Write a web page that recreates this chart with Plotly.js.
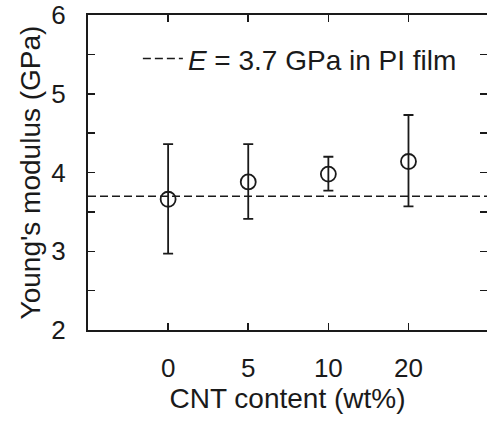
<!DOCTYPE html>
<html><head><meta charset="utf-8">
<script src="https://cdn.plot.ly/plotly-3.0.1.min.js"></script>
<style>html,body{margin:0;padding:0;background:#fff;}</style>
</head><body>
<div id="chart" style="width:487px;height:421px;"></div>
<script>
const categories = ["0", "5", "10", "20"];
const modulus = [3.66, 3.88, 3.98, 4.14];
const errPlus = [0.70, 0.48, 0.22, 0.59];
const errMinus = [0.69, 0.47, 0.21, 0.57];
const filmModulus = 3.7;
const filmLabel = "<i>E</i> = 3.7 GPa in PI film";
const yTicks = [2, 3, 4, 5, 6];

const ink = "#1a1a1a";
const xIdx = categories.map((c, i) => i);

const data = [{
  type: "scatter", mode: "markers",
  x: xIdx, y: modulus,
  error_y: {type: "data", symmetric: false, array: errPlus, arrayminus: errMinus,
            color: ink, thickness: 1.8, width: 5},
  marker: {symbol: "circle-open", size: 15, color: ink, line: {width: 1.8, color: ink}},
  showlegend: false, hoverinfo: "skip"
}];

const layout = {
  width: 487, height: 421,
  margin: {l: 88, r: 0, t: 15, b: 91},
  paper_bgcolor: "#fff", plot_bgcolor: "#fff",
  font: {family: "Liberation Sans, Arial, sans-serif", size: 28, color: ink},
  showlegend: true,
  legend: {x: 0.125, y: 0.94, xanchor: "left", yanchor: "top", bgcolor: "rgba(0,0,0,0)",
           font: {size: 28, color: ink}, itemwidth: 40},
  xaxis: {
    range: [-1, 3.98], tickvals: xIdx, ticktext: categories,
    showline: true, linecolor: ink, linewidth: 2, mirror: "ticks",
    ticks: "inside", ticklen: 7, tickwidth: 1.5, tickcolor: ink,
    tickfont: {size: 26},
    ticklabelstandoff: 14, showgrid: false, zeroline: false,
    title: {text: "CNT content (wt%)", font: {size: 28}, standoff: 2}
  },
  yaxis: {
    range: [2, 6], tickvals: yTicks,
    showline: true, linecolor: ink, linewidth: 2, mirror: "ticks",
    ticks: "inside", ticklen: 7, tickwidth: 1.5, tickcolor: ink,
    tickfont: {size: 26},
    minor: {dtick: 0.5, ticks: "inside", ticklen: 7, tickwidth: 1.5, tickcolor: ink},
    ticklabelstandoff: 15, showgrid: false, zeroline: false,
    title: {text: "Young's modulus (GPa)", font: {size: 28}, standoff: 3}
  },
  shapes: [{
    type: "line", xref: "paper", x0: 0, x1: 1, yref: "y", y0: filmModulus, y1: filmModulus,
    line: {color: ink, width: 1.5, dash: "8px,4px"},
    showlegend: true, name: filmLabel
  }]
};

Plotly.newPlot("chart", data, layout, {displayModeBar: false, staticPlot: true});
</script>
</body></html>
